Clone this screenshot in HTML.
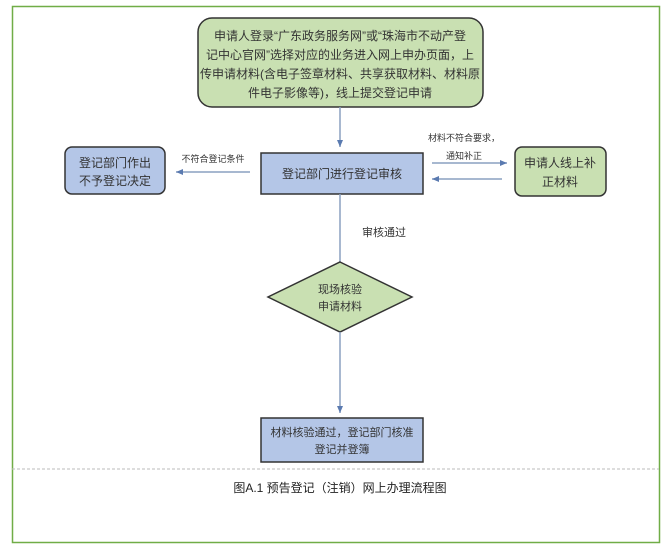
<!DOCTYPE html>
<html><head><meta charset="utf-8"><style>
body{margin:0;background:#fff;}
svg{display:block;font-family:"Liberation Sans","Noto Sans CJK SC",sans-serif;}
</style></head><body>
<svg width="671" height="555" viewBox="0 0 671 555">
<defs><marker id="a" markerWidth="8" markerHeight="8" refX="7" refY="4" orient="auto" markerUnits="userSpaceOnUse"><path d="M0,1 L7,4 L0,7z" fill="#5a7ab0"/></marker></defs>
<rect x="12.5" y="6.5" width="647" height="536" fill="none" stroke="#70ad47" stroke-width="1.5"/>
<line x1="12" y1="469" x2="659" y2="469" stroke="#bbb" stroke-dasharray="3,2"/>
<rect x="198" y="18" width="285" height="89" rx="14" fill="#c9e0b2" stroke="#333" stroke-width="1.5"/>
<g font-size="12" fill="#333" text-anchor="middle">
<text x="340" y="40">申请人登录“广东政务服务网”或“珠海市不动产登</text>
<text x="340" y="59">记中心官网”选择对应的业务进入网上申办页面，上</text>
<text x="340" y="78">传申请材料(含电子签章材料、共享获取材料、材料原</text>
<text x="340" y="97">件电子影像等)，线上提交登记申请</text>
</g>
<line x1="340" y1="107" x2="340" y2="147" stroke="#8aa0c0" stroke-width="1.5" marker-end="url(#a)"/>
<rect x="261" y="153" width="162" height="41" fill="#b4c6e7" stroke="#333" stroke-width="1.5"/>
<text x="342" y="178" font-size="12" fill="#333" text-anchor="middle">登记部门进行登记审核</text>
<rect x="65" y="147" width="100" height="47" rx="7" fill="#b4c6e7" stroke="#333" stroke-width="1.5"/>
<text x="115" y="167" font-size="12" fill="#333" text-anchor="middle">登记部门作出</text>
<text x="115" y="185" font-size="12" fill="#333" text-anchor="middle">不予登记决定</text>
<rect x="515" y="147" width="91" height="49" rx="7" fill="#c9e0b2" stroke="#333" stroke-width="1.5"/>
<text x="560" y="167" font-size="12" fill="#333" text-anchor="middle">申请人线上补</text>
<text x="560" y="186" font-size="12" fill="#333" text-anchor="middle">正材料</text>
<line x1="250" y1="172" x2="176" y2="172" stroke="#8aa0c0" stroke-width="1.5" marker-end="url(#a)"/>
<text x="213" y="162" font-size="9" fill="#333" text-anchor="middle">不符合登记条件</text>
<line x1="432" y1="163" x2="507" y2="163" stroke="#8aa0c0" stroke-width="1.5" marker-end="url(#a)"/>
<line x1="502" y1="179" x2="432" y2="179" stroke="#8aa0c0" stroke-width="1.5" marker-end="url(#a)"/>
<text x="464" y="141" font-size="9" fill="#333" text-anchor="middle">材料不符合要求，</text>
<text x="464" y="159" font-size="9" fill="#333" text-anchor="middle">通知补正</text>
<line x1="340" y1="194" x2="340" y2="262" stroke="#8aa0c0" stroke-width="1.5"/>
<text x="384" y="236" font-size="11" fill="#333" text-anchor="middle">审核通过</text>
<polygon points="340,262 412,297 340,332 268,297" fill="#c9e0b2" stroke="#333" stroke-width="1.5"/>
<text x="340" y="293" font-size="11" fill="#333" text-anchor="middle">现场核验</text>
<text x="340" y="310" font-size="11" fill="#333" text-anchor="middle">申请材料</text>
<line x1="340" y1="332" x2="340" y2="413" stroke="#8aa0c0" stroke-width="1.5" marker-end="url(#a)"/>
<rect x="261" y="418" width="162" height="44" fill="#b4c6e7" stroke="#333" stroke-width="1.5"/>
<text x="342" y="436" font-size="11" fill="#333" text-anchor="middle">材料核验通过，登记部门核准</text>
<text x="342" y="453" font-size="11" fill="#333" text-anchor="middle">登记并登簿</text>
<text x="340" y="492" font-size="12" fill="#222" text-anchor="middle">图A.1 预告登记（注销）网上办理流程图</text>
</svg>
</body></html>
